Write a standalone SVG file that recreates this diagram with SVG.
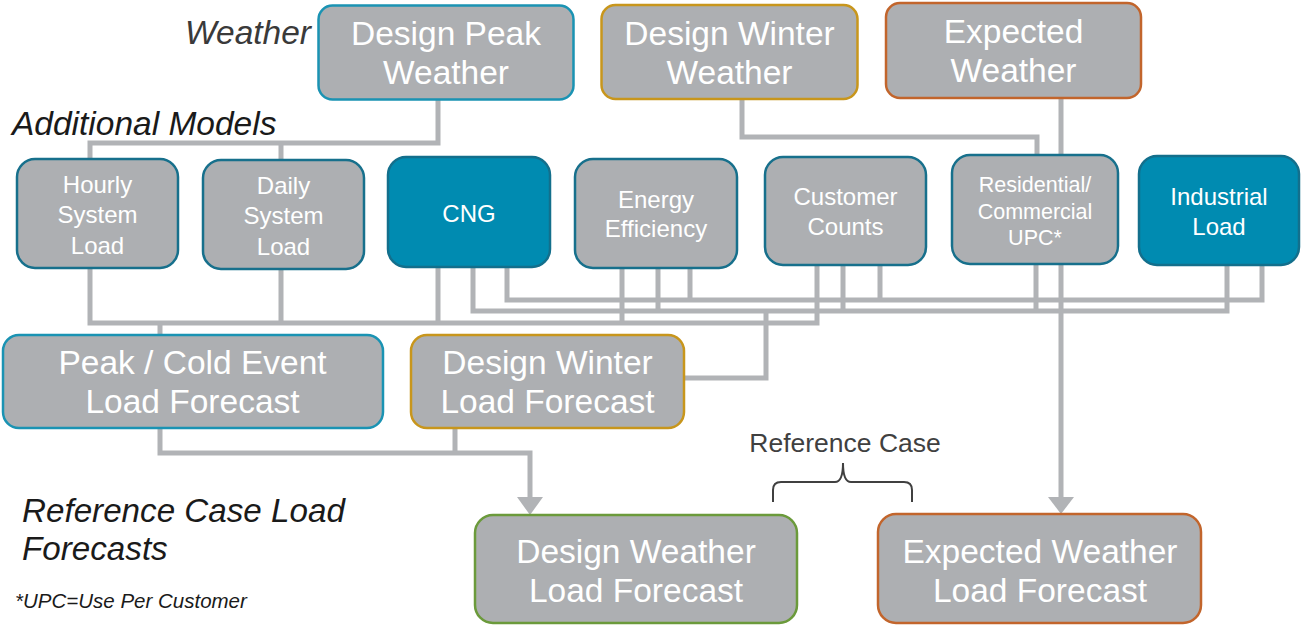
<svg xmlns="http://www.w3.org/2000/svg" width="1301" height="628" viewBox="0 0 1301 628">
<style>
.bg{fill:#ffffff}
.box{fill:#adafb2;stroke-width:2.5}
.teal{stroke:#1a93b3}
.dteal{stroke:#17708c}
.gold{stroke:#c8961c}
.orange{stroke:#c2652c}
.green{stroke:#6b9a3b}
.fteal{fill:#008bb1;stroke:#136f8c;stroke-width:2.5}
.t{font-family:"Liberation Sans",Arial,sans-serif;fill:#ffffff;text-anchor:middle}
.L{font-size:33.5px}
.M{font-size:24px}
.S{font-size:21.5px}
.lab{font-family:"Liberation Sans",Arial,sans-serif;font-style:italic;fill:#1a1a1a}
.conn{fill:none;stroke:#b1b3b6;stroke-width:5;stroke-linejoin:miter}
.arrow{fill:#b1b3b6}
.brace{fill:none;stroke:#404040;stroke-width:2}
</style>
<rect class="bg" x="0" y="0" width="1301" height="628"/>

<g id="connectors">
  <path class="conn" d="M438,100 V143 H90 V159 M281,143 V160"/>
  <path class="conn" d="M742,99 V137 H1037 V155"/>
  <path class="conn" d="M1061,98 V498"/>
  <polygon class="arrow" points="1048,497 1074,497 1061,514"/>
  <path class="conn" d="M90,268 V323 H817 V265 M281,269 V323 M438,267 V323 M622,268 V323 M160,323 V335"/>
  <path class="conn" d="M473,267 V311 H1227 V265 M658,268 V311 M843,265 V311 M1036,264 V311 M766,311 V378 H684"/>
  <path class="conn" d="M507,267 V300 H1262 V265 M690,268 V300 M880,265 V300"/>
  <path class="conn" d="M160,428 V453 H530 V498 M455,428 V453"/>
  <polygon class="arrow" points="517,497 543,497 530,515"/>
</g>

<g id="label-weather"><text class="lab" x="311" y="44" font-size="33.5" text-anchor="end" style="fill:#3a3a3a">Weather</text></g>
<g id="label-additional"><text class="lab" x="12" y="135" font-size="33.5">Additional Models</text></g>
<g id="label-refcase">
  <text class="lab" x="22" y="522" font-size="33.2">Reference Case Load</text>
  <text class="lab" x="22" y="560" font-size="33.2">Forecasts</text>
</g>
<g id="label-upc"><text class="lab" x="15" y="608" font-size="20.5">*UPC=Use Per Customer</text></g>

<g id="node-design-peak-weather">
  <rect class="box teal" x="318.5" y="5.5" width="255" height="94" rx="14"/>
  <text class="t L" x="446" y="45">Design Peak</text>
  <text class="t L" x="446" y="84">Weather</text>
</g>
<g id="node-design-winter-weather">
  <rect class="box gold" x="601.5" y="5" width="256" height="94" rx="14"/>
  <text class="t L" x="729.5" y="45">Design Winter</text>
  <text class="t L" x="729.5" y="84">Weather</text>
</g>
<g id="node-expected-weather">
  <rect class="box orange" x="886" y="3" width="255" height="95" rx="14"/>
  <text class="t L" x="1013.5" y="43">Expected</text>
  <text class="t L" x="1013.5" y="82">Weather</text>
</g>

<g id="node-hourly">
  <rect class="box dteal" x="17" y="159" width="161" height="109" rx="18"/>
  <text class="t M" x="97.5" y="193">Hourly</text>
  <text class="t M" x="97.5" y="223">System</text>
  <text class="t M" x="97.5" y="254">Load</text>
</g>
<g id="node-daily">
  <rect class="box dteal" x="203" y="160" width="161" height="109" rx="18"/>
  <text class="t M" x="283.5" y="194">Daily</text>
  <text class="t M" x="283.5" y="224">System</text>
  <text class="t M" x="283.5" y="255">Load</text>
</g>
<g id="node-cng">
  <rect class="fteal" x="388" y="157" width="162" height="110" rx="18"/>
  <text class="t M" x="469" y="222">CNG</text>
</g>
<g id="node-energy-efficiency">
  <rect class="box dteal" x="575" y="159" width="162" height="109" rx="18"/>
  <text class="t M" x="656" y="208">Energy</text>
  <text class="t M" x="656" y="237">Efficiency</text>
</g>
<g id="node-customer-counts">
  <rect class="box dteal" x="765" y="157" width="161" height="108" rx="18"/>
  <text class="t M" x="845.5" y="205">Customer</text>
  <text class="t M" x="845.5" y="235">Counts</text>
</g>
<g id="node-res-com-upc">
  <rect class="box dteal" x="952" y="155" width="166" height="109" rx="18"/>
  <text class="t S" x="1035" y="192">Residential/</text>
  <text class="t S" x="1035" y="219">Commercial</text>
  <text class="t S" x="1035" y="245">UPC*</text>
</g>
<g id="node-industrial">
  <rect class="fteal" x="1139" y="156" width="160" height="109" rx="18"/>
  <text class="t M" x="1219" y="205">Industrial</text>
  <text class="t M" x="1219" y="235">Load</text>
</g>

<g id="node-peak-cold">
  <rect class="box teal" x="3" y="335" width="380" height="93" rx="16"/>
  <text class="t L" x="192.5" y="374">Peak / Cold Event</text>
  <text class="t L" x="192.5" y="413">Load Forecast</text>
</g>
<g id="node-design-winter-lf">
  <rect class="box gold" x="411" y="335" width="273" height="93" rx="16"/>
  <text class="t L" x="547.5" y="374">Design Winter</text>
  <text class="t L" x="547.5" y="413">Load Forecast</text>
</g>

<g id="reference-case">
  <text x="845" y="452" font-family="Liberation Sans, Arial, sans-serif" font-size="26.5" fill="#404040" text-anchor="middle">Reference Case</text>
  <path class="brace" d="M773,502 V490 Q773,482 781,482 H835 Q843,482 843,463 Q843,482 851,482 H904 Q912,482 912,490 V502"/>
</g>

<g id="node-design-weather-lf">
  <rect class="box green" x="475" y="515" width="322" height="108" rx="18"/>
  <text class="t L" x="636" y="563">Design Weather</text>
  <text class="t L" x="636" y="602">Load Forecast</text>
</g>
<g id="node-expected-weather-lf">
  <rect class="box orange" x="878" y="514" width="323" height="109" rx="18"/>
  <text class="t L" x="1040" y="563">Expected Weather</text>
  <text class="t L" x="1040" y="602">Load Forecast</text>
</g>
</svg>
